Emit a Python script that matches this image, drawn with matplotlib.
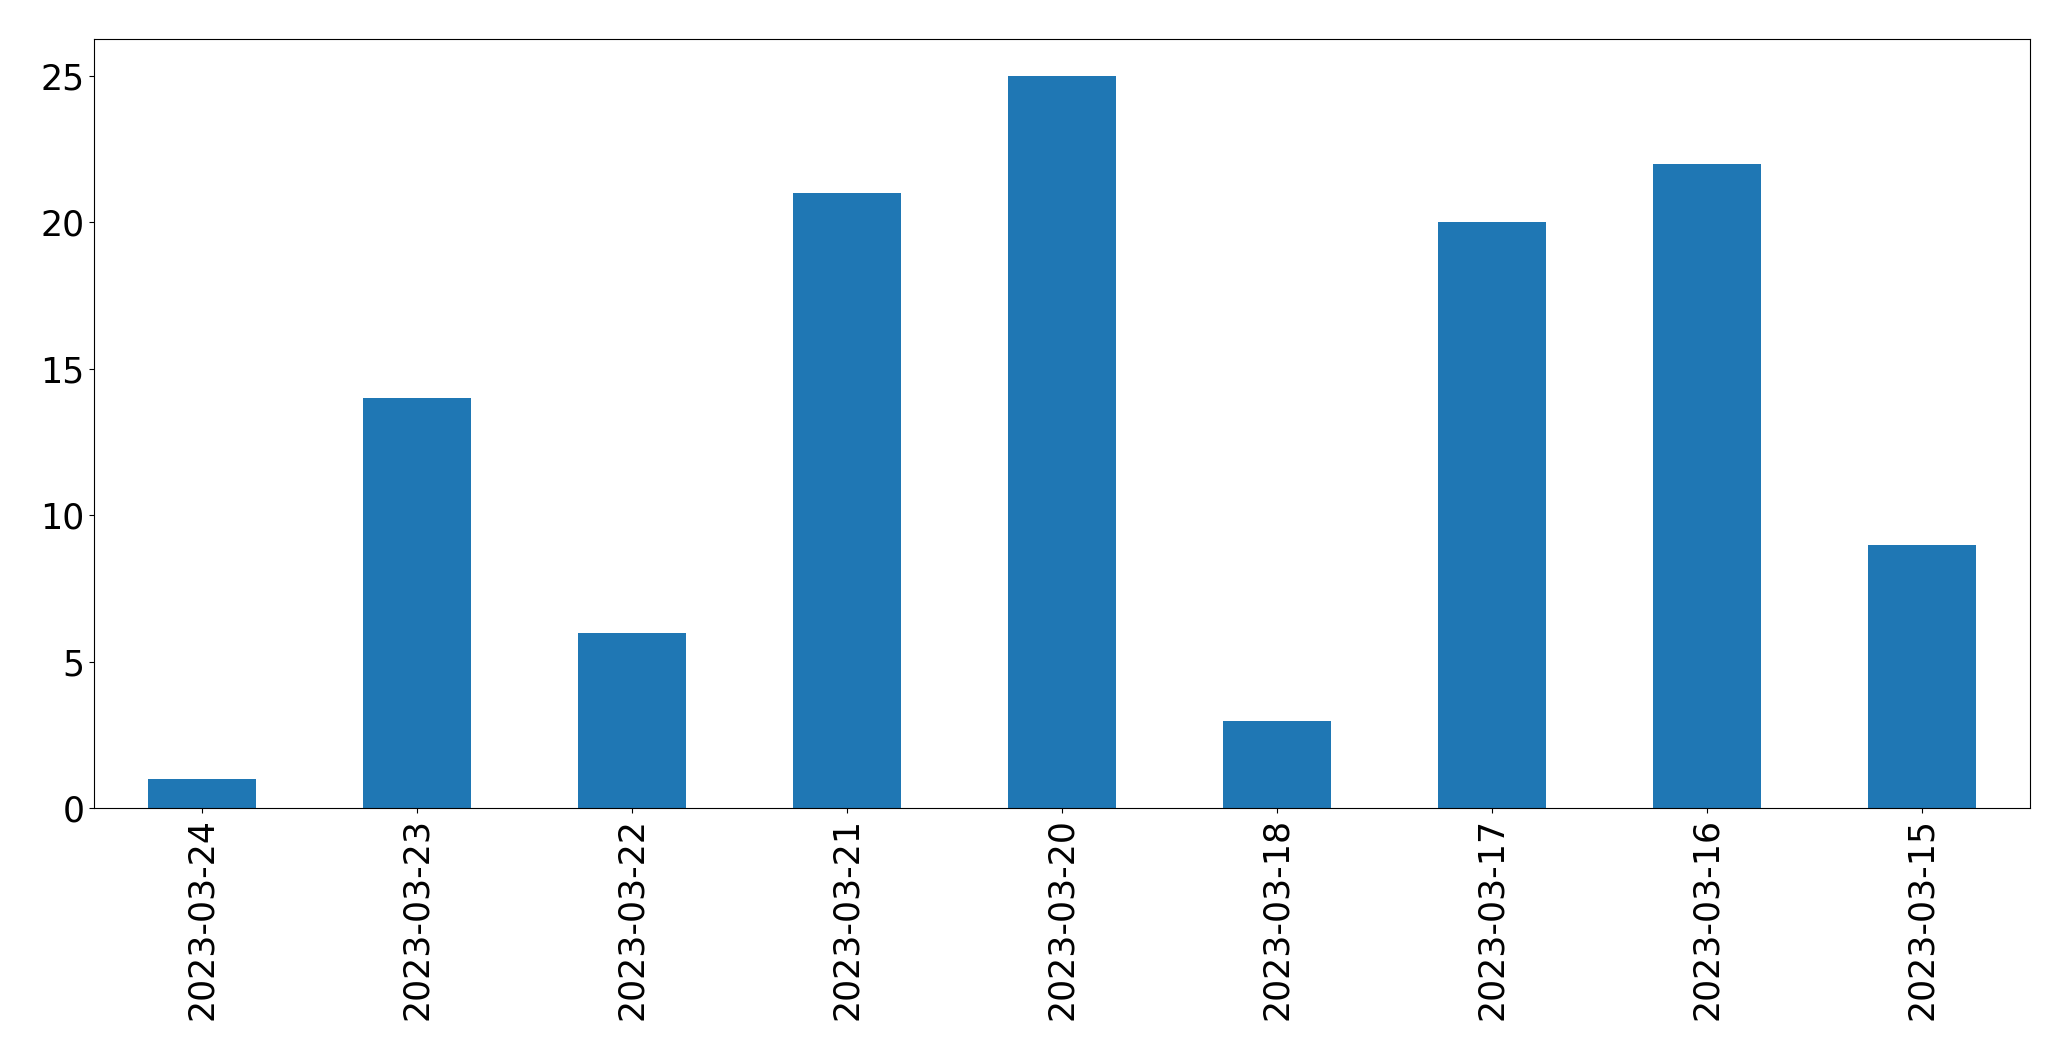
import matplotlib
matplotlib.use('Agg')
import matplotlib.pyplot as plt
import numpy as np

dates = ['2023-03-24', '2023-03-23', '2023-03-22', '2023-03-21', '2023-03-20',
         '2023-03-18', '2023-03-17', '2023-03-16', '2023-03-15']
counts = [1, 14, 6, 21, 25, 3, 20, 22, 9]

fig = plt.figure(figsize=(20.71, 10.61), dpi=100)
ax = fig.add_axes([0.0456, 0.238, 0.9344, 0.725])
x = np.arange(len(dates))
ax.bar(x, counts, width=0.5, color='#1f77b4')
ax.set_xlim(-0.5, len(dates) - 0.5)
ax.set_ylim(0, max(counts) * 1.05)
ax.set_xticks(x)
ax.set_xticklabels(dates, rotation=90)
ax.tick_params(labelsize=25)
fig.savefig('out.png', dpi=100)
